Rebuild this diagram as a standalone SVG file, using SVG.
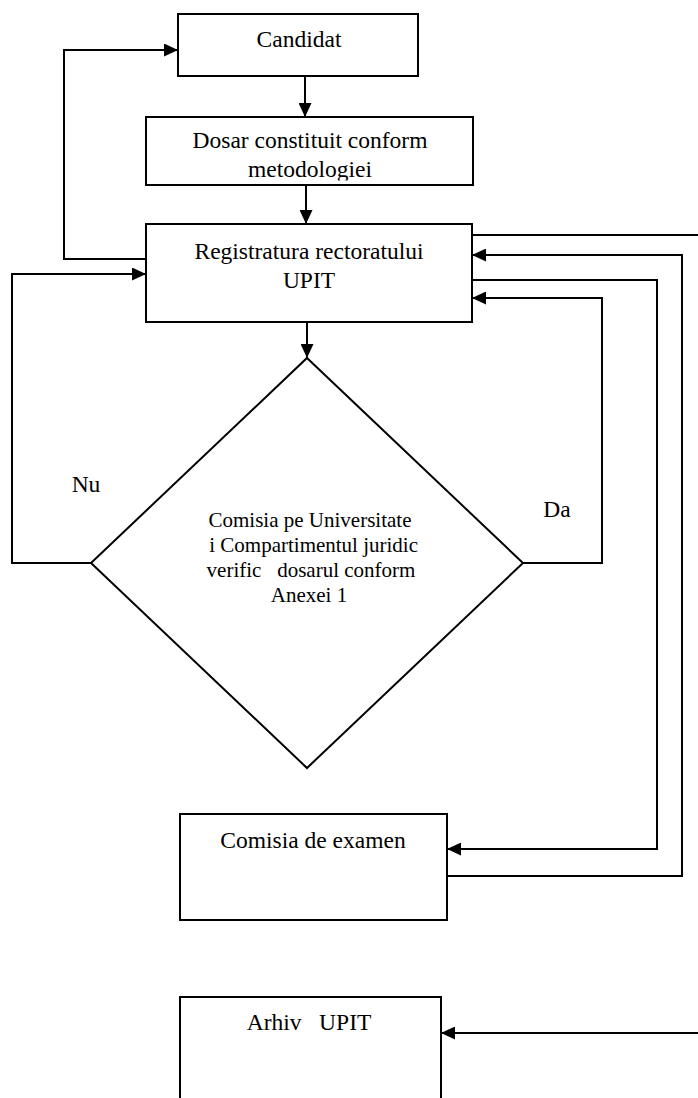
<svg xmlns="http://www.w3.org/2000/svg" width="698" height="1098" viewBox="0 0 698 1098">
<style>
.box{fill:#fff;stroke:#000;stroke-width:2}
.t{font-family:"Liberation Serif","Times New Roman",serif;font-size:23.5px;fill:#000;text-anchor:middle}
.d{font-family:"Liberation Serif","Times New Roman",serif;font-size:21px;fill:#000;text-anchor:middle}
.c{fill:none;stroke:#000;stroke-width:2}
</style>
<defs>
<marker id="ah" markerUnits="userSpaceOnUse" markerWidth="14" markerHeight="13" refX="14" refY="6.5" orient="auto">
<path d="M0,0 L14,6.5 L0,13 z" fill="#000"/>
</marker>
<clipPath id="dosarClip"><rect x="146" y="117" width="327" height="63.5"/></clipPath>
</defs>
<rect width="698" height="1098" fill="#fff"/>

<g id="candidat">
<rect class="box" x="178" y="14" width="240" height="62"/>
<text class="t" x="299" y="47">Candidat</text>
</g>

<g id="dosar">
<rect class="box" x="146" y="117" width="327" height="68"/>
<g clip-path="url(#dosarClip)">
<text class="t" x="310" y="148">Dosar constituit conform</text>
<text class="t" x="310" y="177">metodologiei</text>
</g>
</g>

<g id="registratura">
<rect class="box" x="146" y="224" width="326" height="98"/>
<text class="t" x="309" y="259">Registratura rectoratului</text>
<text class="t" x="309" y="288">UPIT</text>
</g>

<g id="comisia-verificare">
<polygon class="box" points="307,358 523,563 307,768 91,563"/>
<text class="d" xml:space="preserve" x="310" y="527">Comisia pe Universitate</text>
<text class="d" xml:space="preserve" x="311" y="552"> i Compartimentul juridic</text>
<text class="d" xml:space="preserve" x="311" y="577">verific   dosarul conform</text>
<text class="d" xml:space="preserve" x="309" y="602">Anexei 1</text>
</g>

<g id="comisia-examen">
<rect class="box" x="180" y="814" width="267" height="106"/>
<text class="t" x="313" y="848">Comisia de examen</text>
</g>

<g id="arhiva">
<rect class="box" x="180" y="997" width="261" height="115"/>
<text class="t" xml:space="preserve" x="309" y="1030">Arhiv   UPIT</text>
</g>

<g id="connectors">
<line class="c" x1="305" y1="76" x2="305" y2="117" marker-end="url(#ah)"/>
<line class="c" x1="306" y1="185" x2="306" y2="224" marker-end="url(#ah)"/>
<line class="c" x1="307" y1="322" x2="307" y2="358" marker-end="url(#ah)"/>
<polyline class="c" points="146,259 64,259 64,50 178,50" marker-end="url(#ah)"/>
<polyline class="c" points="91,563 12,563 12,274 146,274" marker-end="url(#ah)"/>
<polyline class="c" points="523,563 602,563 602,298 472,298" marker-end="url(#ah)"/>
<polyline class="c" points="472,280 657,280 657,849 447,849" marker-end="url(#ah)"/>
<polyline class="c" points="447,876 682,876 682,255 472,255" marker-end="url(#ah)"/>
<line class="c" x1="472" y1="235" x2="698" y2="235"/>
<line class="c" x1="698" y1="1033" x2="441" y2="1033" marker-end="url(#ah)"/>
<text class="t" x="86" y="492">Nu</text>
<text class="t" x="557" y="517">Da</text>
</g>
</svg>
